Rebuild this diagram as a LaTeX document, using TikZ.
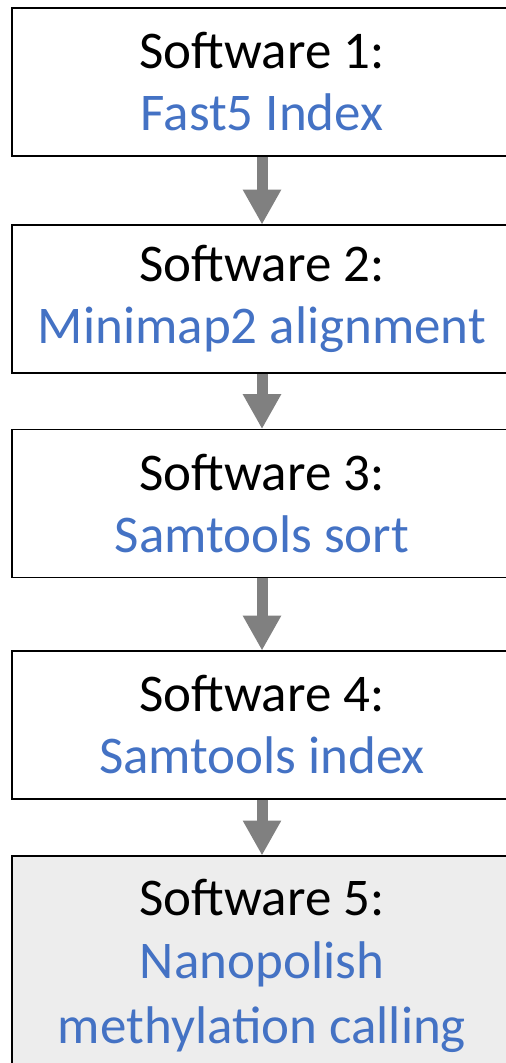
\documentclass[tikz,border=0pt]{standalone}
\usepackage{fontspec}
\setmainfont{Carlito}
\usetikzlibrary{arrows.meta}
\definecolor{stepblue}{HTML}{4472C4}
\definecolor{flowgray}{HTML}{808080}
\definecolor{lastfill}{HTML}{EDEDED}
\begin{document}
\begin{tikzpicture}[x=1pt,y=1pt,
  stepbox/.style={draw=black, line width=1.8pt, minimum width=500pt, minimum height=148pt,
    inner sep=0pt, align=center, font=\fontsize{53}{62}\selectfont},
  line/.style={inner sep=0pt, anchor=base, font=\fontsize{53}{62}\selectfont},
  flow/.style={draw=flowgray, line width=11pt,
    -{Triangle[width=36pt,length=35pt]}, shorten >=-0.5pt}]
\useasboundingbox (0,0) rectangle (506,-1063);
\begin{scope}
\clip (0,0) rectangle (506,-1063);
\node[stepbox] (s1) at (262,-82) {Software 1:\\\textcolor{stepblue}{Fast5 Index}};
\node[stepbox] (s2) at (262,-299) {Software 2:\\\textcolor{stepblue}{Minimap2 alignment}};
\node[stepbox] (s3) at (262,-503.5) {Software 3:\\\textcolor{stepblue}{Samtools sort}};
\node[stepbox] (s4) at (262,-725) {Software 4:\\\textcolor{stepblue}{Samtools index}};
\node[stepbox, fill=lastfill, minimum height=260pt, anchor=north] (s5) at (262,-855) {};
\node[line] (t5a) at (262,-915) {Software 5:};
\node[line, text=stepblue] (t5b) at (262,-978) {Nanopolish};
\node[line, text=stepblue] (t5c) at (262,-1043) {methylation calling};
\end{scope}
\draw[flow] (s1.south) -- (s2.north);
\draw[flow] (s2.south) -- (s3.north);
\draw[flow] (s3.south) -- (s4.north);
\draw[flow] (s4.south) -- (s5.north);
\end{tikzpicture}
\end{document}
